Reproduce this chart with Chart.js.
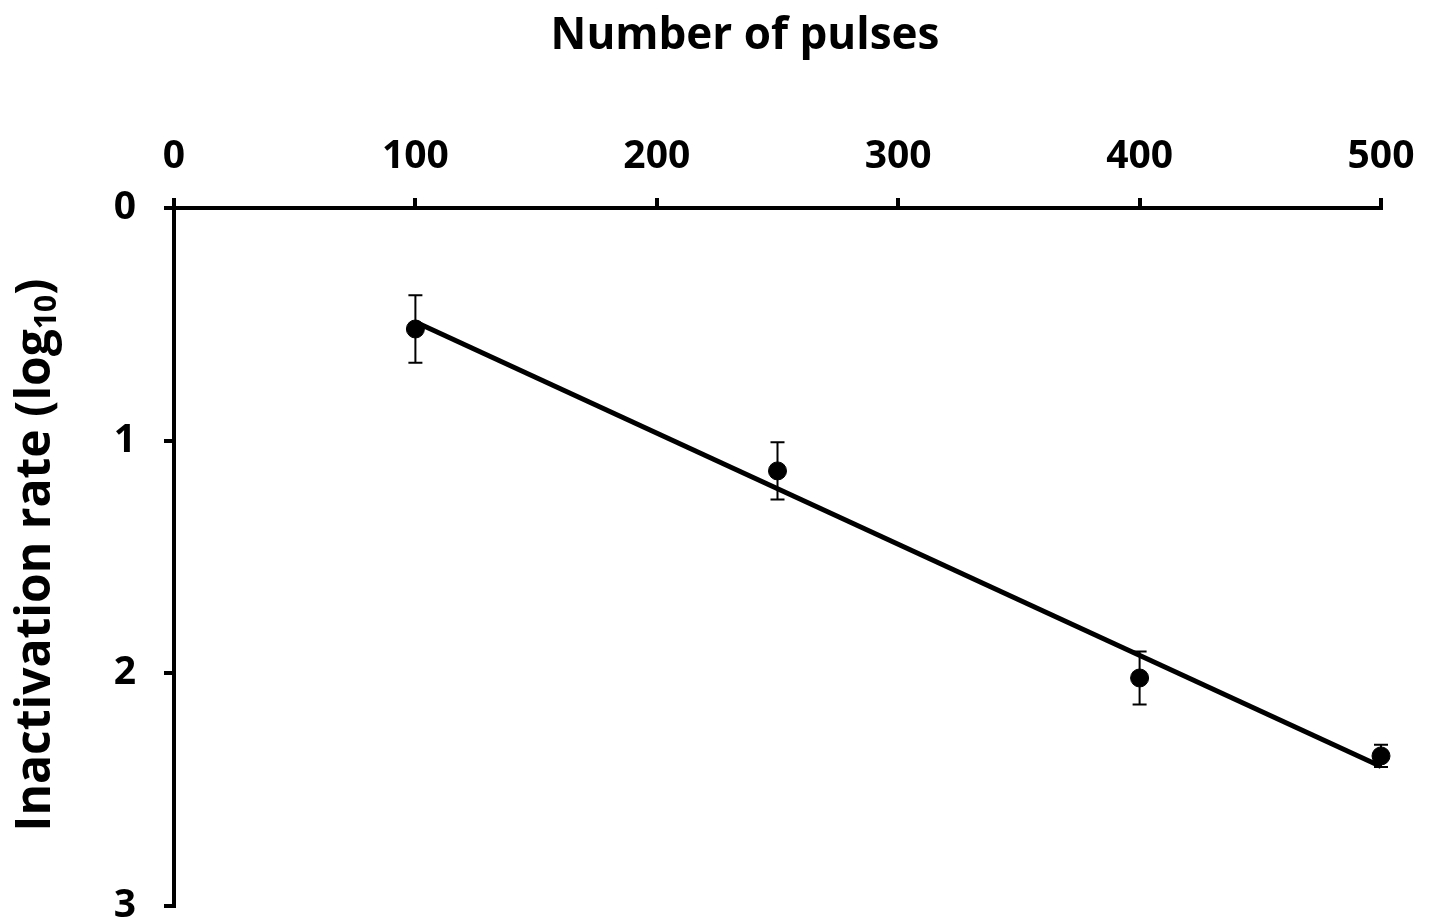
<!DOCTYPE html>
<html>
<head>
<meta charset="utf-8">
<script src="https://cdn.jsdelivr.net/npm/chart.js@4.4.1/dist/chart.umd.min.js"></script>
<style>
  html, body { margin: 0; padding: 0; background: #fff; }
  #wrap { width: 1434px; height: 921px; }
</style>
</head>
<body>
<div id="wrap"><canvas id="chart" width="1434" height="921"></canvas></div>
<script>
// measured points
const pulses = [100, 250, 400, 500];
const inactivation = [0.52, 1.13, 2.02, 2.355];
const errors = [0.145, 0.123, 0.114, 0.048];

// fitted trend line end points
const trendX = [100, 500];
const trendY = [0.49, 2.40];

const xTicks = [0, 100, 200, 300, 400, 500];
const yTicks = [0, 1, 2, 3];

const FONT = "'Open Sans', sans-serif";

// error bars under the dots
const errorBars = {
  id: 'errorBars',
  beforeDatasetsDraw(chart) {
    const { ctx, scales: { x, y } } = chart;
    ctx.save();
    ctx.strokeStyle = '#000';
    ctx.lineWidth = 2;
    pulses.forEach((p, i) => {
      const px = x.getPixelForValue(p);
      const top = y.getPixelForValue(inactivation[i] - errors[i]);
      const bot = y.getPixelForValue(inactivation[i] + errors[i]);
      ctx.beginPath();
      ctx.moveTo(px, top); ctx.lineTo(px, bot);
      ctx.moveTo(px - 7, top); ctx.lineTo(px + 7, top);
      ctx.moveTo(px - 7, bot); ctx.lineTo(px + 7, bot);
      ctx.stroke();
    });
    ctx.restore();
  }
};

// axis titles (y title needs a subscript)
const axisTitles = {
  id: 'axisTitles',
  afterDraw(chart) {
    const { ctx } = chart;
    ctx.save();
    ctx.fillStyle = '#000';
    ctx.textBaseline = 'middle';
    ctx.textAlign = 'center';
    ctx.font = `bold 44px ${FONT}`;
    ctx.fillText('Number of pulses', 745, 36);

    ctx.translate(36, 555);
    ctx.rotate(-Math.PI / 2);
    const main = 'Inactivation rate (log';
    const sub = '10';
    const close = ')';
    ctx.font = `bold 48px ${FONT}`;
    const wMain = ctx.measureText(main).width;
    const wClose = ctx.measureText(close).width;
    ctx.font = `bold 30px ${FONT}`;
    const wSub = ctx.measureText(sub).width;
    let cx = -(wMain + wSub + wClose) / 2;
    ctx.textAlign = 'left';
    ctx.font = `bold 48px ${FONT}`;
    ctx.fillText(main, cx, 0);
    cx += wMain;
    ctx.font = `bold 30px ${FONT}`;
    ctx.fillText(sub, cx, 11);
    cx += wSub;
    ctx.font = `bold 48px ${FONT}`;
    ctx.fillText(close, cx, 0);
    ctx.restore();
  }
};

new Chart(document.getElementById('chart'), {
  type: 'scatter',
  data: {
    datasets: [{
      label: 'Inactivation',
      data: pulses.map((p, i) => ({ x: p, y: inactivation[i] })),
      backgroundColor: '#000',
      borderColor: '#000',
      pointRadius: 9,
      pointHoverRadius: 9,
      showLine: false,
      clip: false
    }, {
      label: 'Trend',
      data: trendX.map((p, i) => ({ x: p, y: trendY[i] })),
      borderColor: '#000',
      borderWidth: 5,
      pointRadius: 0,
      showLine: true,
      clip: false
    }]
  },
  options: {
    responsive: false,
    animation: false,
    events: [],
    layout: { padding: { top: 0, left: 0, right: 53, bottom: 15 } },
    plugins: {
      legend: { display: false },
      title: { display: false },
      tooltip: { enabled: false }
    },
    scales: {
      x: {
        type: 'linear',
        position: 'top',
        min: 0, max: 500,
        afterFit(s) { s.height = 208; s.paddingLeft = 0; s.paddingRight = 0; },
        afterBuildTicks(s) { s.ticks = xTicks.map(v => ({ value: v })); },
        border: { color: '#000', width: 4 },
        grid: { drawOnChartArea: false, drawTicks: true, tickLength: 10, color: '#000', lineWidth: 4 },
        ticks: { color: '#000', padding: 18, font: { family: FONT, size: 39, weight: 'bold' } }
      },
      y: {
        type: 'linear',
        reverse: true,
        min: 0, max: 3,
        afterFit(s) { s.width = 174; s.paddingTop = 0; s.paddingBottom = 0; },
        afterBuildTicks(s) { s.ticks = yTicks.map(v => ({ value: v })); },
        border: { color: '#000', width: 4 },
        grid: { drawOnChartArea: false, drawTicks: true, tickLength: 10, color: '#000', lineWidth: 4 },
        ticks: { color: '#000', padding: 28, font: { family: FONT, size: 39, weight: 'bold' } }
      }
    }
  },
  plugins: [errorBars, axisTitles]
});
</script>
</body>
</html>
